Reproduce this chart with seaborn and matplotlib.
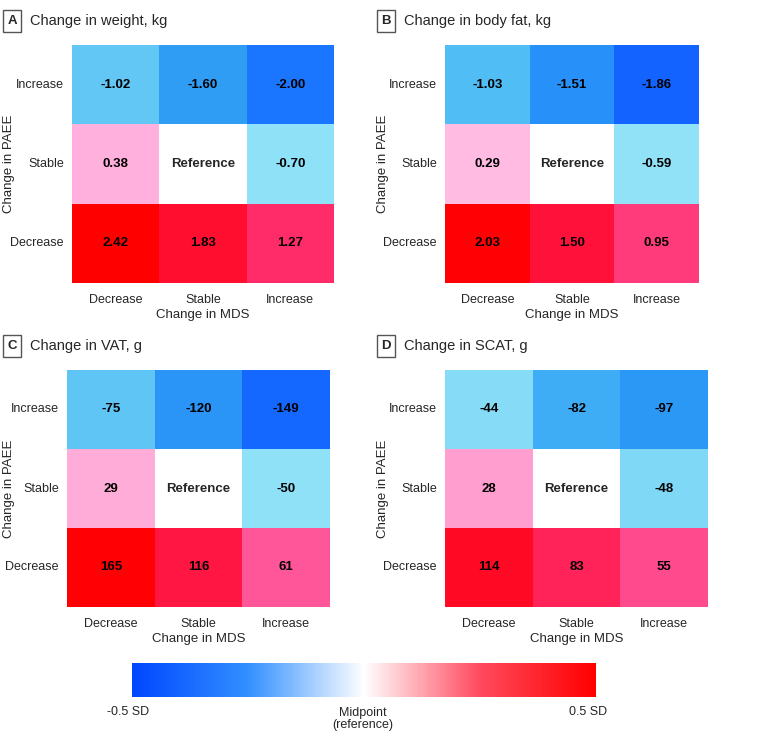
import numpy as np
import matplotlib
matplotlib.use("Agg")
import matplotlib.pyplot as plt
import seaborn as sns
from matplotlib.colors import LinearSegmentedColormap, Normalize
from matplotlib.colorbar import ColorbarBase

sns.set_style("white")
plt.rcParams['font.family'] = ['Liberation Sans Narrow', 'Liberation Sans', 'DejaVu Sans']

# data
mds_labels = ["Decrease", "Stable", "Increase"]
paee_labels = ["Increase", "Stable", "Decrease"]   # top to bottom

weight = [[-1.02, -1.60, -2.00], [0.38, np.nan, -0.70], [2.42, 1.83, 1.27]]
body_fat = [[-1.03, -1.51, -1.86], [0.29, np.nan, -0.59], [2.03, 1.50, 0.95]]
vat = [[-75, -120, -149], [29, np.nan, -50], [165, 116, 61]]
scat = [[-44, -82, -97], [28, np.nan, -48], [114, 83, 55]]

titles = ["Change in weight, kg", "Change in body fat, kg", "Change in VAT, g", "Change in SCAT, g"]
letters = ["A", "B", "C", "D"]
fmts = ["{:.2f}", "{:.2f}", "{:.0f}", "{:.0f}"]
half_sd = [2.4, 2.08, 170, 140]   # value that maps to +/-0.5 SD

# cell colours (blue -> cyan -> white -> pink -> red)
cell_cmap = LinearSegmentedColormap.from_list("cells", [
    (0.00, "#0048FF"), (0.05, "#1262FF"), (0.10, "#1E80FF"), (0.16, "#2E9BF5"),
    (0.235, "#48B8F5"), (0.29, "#64C8F5"), (0.35, "#8CE0F7"), (0.42, "#C8F0FA"),
    (0.50, "#FFFFFF"), (0.58, "#FFB0DC"), (0.68, "#FF5599"), (0.75, "#FF3070"),
    (0.85, "#FF1440"), (0.90, "#FF0A28"), (1.00, "#FF0000")])
bar_cmap = LinearSegmentedColormap.from_list("bar", ["#0046FF", "#3390FF", "#FFFFFF", "#FF4A5E", "#FF0000"])

fig = plt.figure(figsize=(7.8, 7.42), dpi=100)
W, H = 780, 742

def px_axes(x0, y0, x1, y1):
    return fig.add_axes([x0 / W, 1 - y1 / H, (x1 - x0) / W, (y1 - y0) / H])

boxes = [(72, 45, 334, 283), (445, 45, 699, 283), (67, 370, 330, 607), (445, 370, 708, 607)]
title_pos = [(4, 21), (378, 21), (4, 346), (378, 346)]
ylabel_x = [15, 389, 15, 389]

for i, data in enumerate([weight, body_fat, vat, scat]):
    arr = np.array(data, dtype=float)
    annot = np.empty(arr.shape, dtype=object)
    for r in range(3):
        for c in range(3):
            annot[r, c] = "" if np.isnan(arr[r, c]) else fmts[i].format(arr[r, c])
    ax = px_axes(*boxes[i])
    sns.heatmap(arr, ax=ax, cmap=cell_cmap, vmin=-half_sd[i], vmax=half_sd[i],
                cbar=False, annot=annot, fmt="", square=False,
                annot_kws=dict(fontsize=9.5, fontweight="bold", color="black"),
                xticklabels=mds_labels, yticklabels=paee_labels)
    ax.set_facecolor("white")
    # reference cell (NaN) label
    ax.text(1.5, 1.5, "Reference", ha="center", va="center", fontsize=9.5, fontweight="bold")
    ax.tick_params(axis="both", length=0, labelsize=9)
    ax.tick_params(axis="y", pad=6)
    ax.tick_params(axis="x", pad=8)
    plt.setp(ax.get_yticklabels(), rotation=0)
    ax.set_xlabel("Change in MDS", fontsize=9.5, labelpad=2)
    ax.set_ylabel("Change in PAEE", fontsize=9.5)
    x0, y0, x1, y1 = boxes[i]
    ax.yaxis.set_label_coords((ylabel_x[i] - x0) / (x1 - x0), 0.5)
    tx, ty = title_pos[i]
    fig.text((tx + 8) / W, 1 - ty / H, letters[i], fontsize=9.5, fontweight="bold",
             ha="center", va="center",
             bbox=dict(boxstyle="square,pad=0.35", fc="white", ec="#555555", lw=1))
    fig.text((tx + 26) / W, 1 - ty / H, titles[i], fontsize=10.5, ha="left", va="center")

# colorbar
cax = px_axes(132, 663, 596, 697)
cb = ColorbarBase(cax, cmap=bar_cmap, norm=Normalize(-0.5, 0.5), orientation="horizontal")
cb.outline.set_visible(False)
cb.set_ticks([])
fig.text(128 / W, 1 - 712 / H, "-0.5 SD", ha="center", va="center", fontsize=9)
fig.text(363 / W, 1 - 719 / H, "Midpoint\n(reference)", ha="center", va="center", fontsize=9, linespacing=1.1)
fig.text(588 / W, 1 - 712 / H, "0.5 SD", ha="center", va="center", fontsize=9)

fig.savefig("out.png", dpi=100, facecolor="white")
